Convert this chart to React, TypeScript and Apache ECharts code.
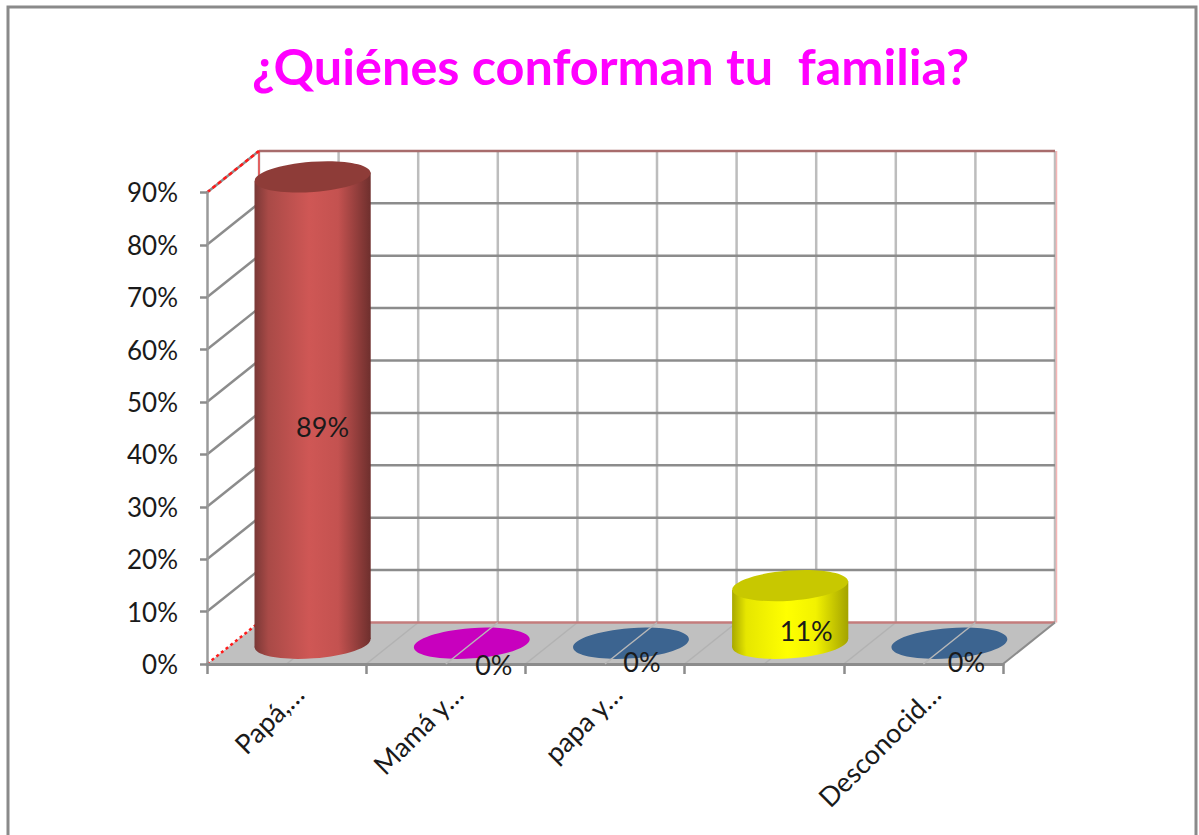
import React, { useEffect, useRef } from "react";
import * as echarts from "echarts";

const titleText = "¿Quiénes conforman tu  familia?";
const categories = ["Papá,…", "Mamá y…", "papa y…", "", "Desconocid…"];
const values = [89, 0, 0, 11, 0];
const valueLabels = ["89%", "0%", "0%", "11%", "0%"];
const yTicks = [0, 10, 20, 30, 40, 50, 60, 70, 80, 90];

const bodyColors = [
  ["#7a3836", "#a94a47", "#cf5755", "#c45250", "#6e2f2d"],
  ["#c800be", "#c800be", "#c800be", "#c800be", "#c800be"],
  ["#3c6490", "#3c6490", "#3c6490", "#3c6490", "#3c6490"],
  ["#a8a800", "#e6e600", "#ffff00", "#f2f200", "#a3a300"],
  ["#3c6490", "#3c6490", "#3c6490", "#3c6490", "#3c6490"],
];
const topColors = ["#8e3c38", "#c800be", "#3c6490", "#c8c800", "#3c6490"];
const labelNudge = [[10, 16], [22, 21], [11, 18], [16, 16], [17, 18]];

const DX = 52;
const DY = -41.5;
const GRID_LINE = "#8c8c8c";
const WALL_LINE = "#bdbdbd";

const line = (x1: number, y1: number, x2: number, y2: number, stroke: string, lineWidth: number, lineDash?: number[]) => ({
  type: "line",
  shape: { x1, y1, x2, y2 },
  style: { stroke, lineWidth, lineDash, fill: "none" },
  silent: true,
});

function renderFrame(_p: any, api: any) {
  const o = api.coord([0, 0]);
  const band = api.size([1, 0])[0];
  const x0 = o[0] - band / 2;
  const x1 = x0 + band * categories.length;
  const y0 = o[1];
  const yTop = api.coord([0, yTicks[yTicks.length - 1]])[1];
  const children: any[] = [];
  children.push({
    type: "polygon",
    shape: { points: [[x0, y0], [x1, y0], [x1 + DX, y0 + DY], [x0 + DX, y0 + DY]] },
    style: { fill: "#c0c0c0" },
    silent: true,
  });
  for (let i = 0; i <= categories.length * 2; i++) {
    const xf = x0 + (band / 2) * i;
    children.push(line(xf + DX, yTop + DY, xf + DX, y0 + DY, WALL_LINE, 2.5));
    if (i > 0 && i < categories.length * 2) children.push(line(xf, y0, xf + DX, y0 + DY, "#b2b2b2", 1.5));
  }
  for (const v of yTicks) {
    const y = api.coord([0, v])[1];
    if (v > 0) {
      children.push(line(x0 + DX, y + DY, x1 + DX, y + DY, v === 90 ? "#a86c6c" : GRID_LINE, 2.5));
      children.push(line(x0, y, x0 + DX, y + DY, GRID_LINE, 2.5));
    }
  }
  children.push(line(x0 + DX, y0 + DY, x1 + DX, y0 + DY, "#c47c7c", 2.5));
  children.push(line(x0 + DX, yTop + DY, x0 + DX, y0 + DY, "#ee4444", 1.5));
  children.push(line(x1 + DX + 1.5, yTop + DY, x1 + DX + 1.5, y0 + DY, "#f5b5b5", 1.5));
  children.push(line(x0, yTop, x0 + DX, yTop + DY, "#ff1a1a", 2.5, [4, 3]));
  children.push(line(x0, y0, x0 + DX, y0 + DY, "#ff1a1a", 2.5, [3, 3]));
  children.push(line(x1, y0, x1 + DX, y0 + DY, "#8c8c8c", 2));
  return { type: "group", children };
}

function renderCylinder(p: any, api: any) {
  const idx = api.value(0);
  const v = api.value(1);
  const band = api.size([1, 0])[0];
  const base = api.coord([idx, 0]);
  const top = api.coord([idx, v]);
  const cx = base[0] + DX / 2;
  const by = base[1] + DY / 2;
  const ty = top[1] + DY / 2;
  const rx = band * 0.365;
  const ry = rx * 0.26;
  const tilt = 0.075;
  const dy = rx * Math.sin(tilt);
  const stops = bodyColors[idx].map((color, i) => ({ offset: [0, 0.12, 0.47, 0.72, 1][i], color }));
  const grad = new echarts.graphic.LinearGradient(0, 0, 1, 0, stops);
  const children: any[] = [];
  if (v > 0) {
    children.push({ type: "ellipse", x: cx, y: by, rotation: tilt, shape: { cx: 0, cy: 0, rx, ry }, style: { fill: grad }, silent: true });
    children.push({
      type: "polygon",
      shape: { points: [[cx - rx, ty + dy], [cx + rx, ty - dy], [cx + rx, by - dy], [cx - rx, by + dy]] },
      style: { fill: grad },
      silent: true,
    });
  }
  children.push({ type: "ellipse", x: cx, y: ty, rotation: tilt, shape: { cx: 0, cy: 0, rx, ry }, style: { fill: topColors[idx] }, silent: true });
  if (v === 0) {
    children.push(line(base[0], base[1], base[0] + DX, base[1] + DY, "#b8b8b8", 1.5));
  }
  const n = labelNudge[idx];
  children.push({
    type: "text",
    x: cx + n[0],
    y: (by + ty) / 2 + n[1],
    silent: true,
    style: { text: valueLabels[idx], fill: "#1a1a1a", font: "27px Lato", align: "center", verticalAlign: "middle" },
  });
  return { type: "group", children };
}

export default function App() {
  const ref = useRef<HTMLDivElement>(null);
  useEffect(() => {
    const chart = echarts.init(ref.current!, null, { renderer: "svg" });
    const gridTop = 192.4;
    const gridBottom = 835 - 664;
    chart.setOption({
      animation: false,
      backgroundColor: "#ffffff",
      title: {
        text: titleText,
        left: 605.5,
        top: 35,
        textAlign: "center",
        textStyle: { color: "#ff00ff", fontFamily: "Lato", fontWeight: "bold", fontSize: 50.4 },
      },
      graphic: [
        {
          type: "rect",
          shape: { x: 8, y: 7, width: 1188, height: 860 },
          style: { fill: "none", stroke: "#8a8a8a", lineWidth: 3 },
          silent: true,
        },
      ],
      grid: [
        { left: 207, right: 196, top: gridTop, bottom: gridBottom },
        { left: 219, right: 184, top: gridTop, bottom: gridBottom },
      ],
      xAxis: [
        {
          type: "category",
          gridIndex: 0,
          data: categories,
          z: 5,
          axisLine: { lineStyle: { color: "#8c8c8c", width: 3 } },
          axisTick: { show: true, length: 10, alignWithLabel: false, lineStyle: { color: "#8c8c8c", width: 2.5 } },
          axisLabel: { show: false },
          splitLine: { show: false },
        },
        {
          type: "category",
          gridIndex: 1,
          data: categories,
          axisLine: { show: false },
          axisTick: { show: false },
          splitLine: { show: false },
          axisLabel: {
            interval: 0,
            rotate: 45,
            margin: 25,
            color: "#1a1a1a",
            fontFamily: "Lato",
            fontSize: 27,
          },
        },
      ],
      yAxis: [
        {
          type: "value",
          gridIndex: 0,
          min: 0,
          max: 90,
          interval: 10,
          z: 5,
          axisLine: { show: true, lineStyle: { color: "#9a9a9a", width: 2.5 } },
          axisTick: { show: true, length: 7, lineStyle: { color: "#8c8c8c", width: 2.5 } },
          splitLine: { show: false },
          axisLabel: {
            margin: 29,
            color: "#1a1a1a",
            fontFamily: "Lato",
            fontSize: 26,
            formatter: "{value}%",
          },
        },
        { type: "value", gridIndex: 1, min: 0, max: 90, interval: 10, show: false },
      ],
      series: [
        {
          type: "custom",
          name: "frame",
          xAxisIndex: 0,
          yAxisIndex: 0,
          z: 1,
          clip: false,
          silent: true,
          data: [[0, 0]],
          renderItem: renderFrame,
        },
        {
          type: "custom",
          name: "family",
          xAxisIndex: 0,
          yAxisIndex: 0,
          z: 7,
          clip: false,
          silent: true,
          encode: { x: 0, y: 1 },
          data: values.map((v, i) => [i, v]),
          renderItem: renderCylinder,
        },
      ],
    });
    return () => chart.dispose();
  }, []);
  return <div ref={ref} style={{ position: "fixed", left: 0, top: 0, width: 1199, height: 835 }} />;
}
